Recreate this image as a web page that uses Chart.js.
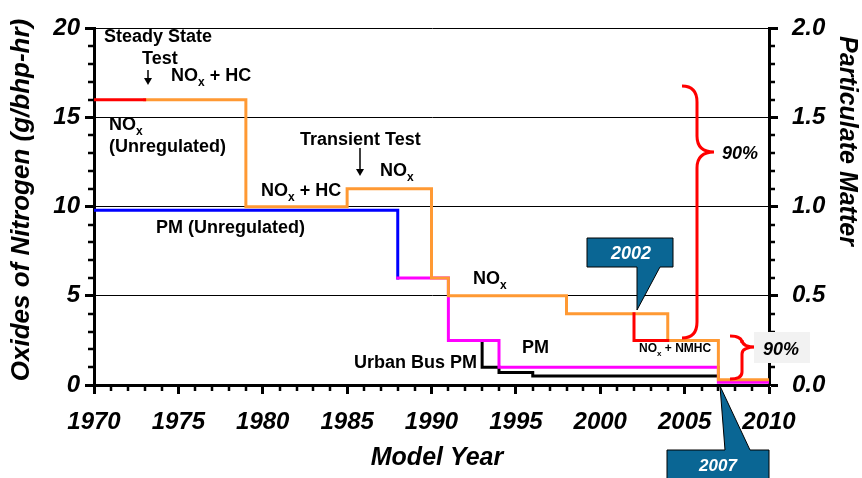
<!DOCTYPE html>
<html>
<head>
<meta charset="utf-8">
<script src="https://cdn.jsdelivr.net/npm/chart.js@4.4.0/dist/chart.umd.min.js"></script>
<style>
  html, body { margin: 0; padding: 0; background: #fff; }
</style>
</head>
<body>
<canvas id="chart" width="862" height="478"></canvas>
<script>
// ─── DATA ────────────────────────────────────────────────────
const xTickYears   = [1970, 1975, 1980, 1985, 1990, 1995, 2000, 2005, 2010];
const noxTicks     = [0, 5, 10, 15, 20];
const pmTicks      = [0, 0.5, 1.0, 1.5, 2.0];

// NOx (g/bhp-hr), left axis
const noxUnregYears = [1970, 1973];
const noxUnregVals  = [16, 16];
const noxStdYears   = [1973, 1979, 1985, 1990, 1991, 1998, 2004, 2007, 2010];
const noxStdVals    = [16, 10, 11, 6, 5, 4, 2.5, 0.3, 0.3];
const noxPullYears  = [2002, 2002, 2004];
const noxPullVals   = [4, 2.5, 2.5];

// PM (g/bhp-hr), right axis
const pmUnregYears  = [1970, 1988, 1988];
const pmUnregVals   = [0.98, 0.98, 0.6];
const pmStdYears    = [1988, 1991, 1994, 2007, 2010];
const pmStdVals     = [0.6, 0.25, 0.1, 0.015, 0.015];
const busPmYears    = [1993, 1993, 1994, 1996, 2007];
const busPmVals     = [0.25, 0.1, 0.07, 0.05, 0.05];

const zip = (xs, ys) => xs.map((x, i) => ({ x, y: ys[i] }));

// ─── HELPERS ─────────────────────────────────────────────────
const FAM = 'Arial, "Liberation Sans", sans-serif';
const F = (size, italic) => `${italic ? 'italic ' : ''}bold ${size}px ${FAM}`;

function nox(ctx, x, y, size, rest) {
    ctx.textAlign = 'left';
    ctx.font = F(size);
    ctx.fillText('NO', x, y);
    let w = ctx.measureText('NO').width;
    const sub = Math.round(size * 0.68);
    ctx.font = F(sub);
    ctx.fillText('x', x + w, y + size * 0.3);
    w += ctx.measureText('x').width;
    if (rest) { ctx.font = F(size); ctx.fillText(rest, x + w, y); }
}

function brace(ctx, x0, x1, xt, yTop, yTip, yBot, r) {
    ctx.beginPath();
    ctx.moveTo(x0, yTop);
    ctx.quadraticCurveTo(x1, yTop, x1, yTop + r);
    ctx.lineTo(x1, yTip - r);
    ctx.quadraticCurveTo(x1, yTip, xt, yTip);
    ctx.quadraticCurveTo(x1, yTip, x1, yTip + r);
    ctx.lineTo(x1, yBot - r);
    ctx.quadraticCurveTo(x1, yBot, x0, yBot);
    ctx.stroke();
}

function arrowDown(ctx, x, y0, y1) {
    ctx.strokeStyle = '#000';
    ctx.lineWidth = 1.5;
    ctx.beginPath(); ctx.moveTo(x, y0); ctx.lineTo(x, y1 - 5); ctx.stroke();
    ctx.fillStyle = '#000';
    ctx.beginPath(); ctx.moveTo(x - 4, y1 - 7); ctx.lineTo(x + 4, y1 - 7); ctx.lineTo(x, y1); ctx.closePath(); ctx.fill();
}

// ─── DECORATIONS PLUGIN ──────────────────────────────────────
const decor = {
    id: 'decor',
    afterDraw(chart) {
        const ctx = chart.ctx;
        const xs = chart.scales.x, ys = chart.scales.y, ys2 = chart.scales.y2;
        const a = chart.chartArea;
        ctx.save();

        // minor ticks
        ctx.strokeStyle = '#000';
        ctx.lineWidth = 2.5;
        ctx.beginPath();
        for (let v = 0; v <= 20; v++) {
            if (v % 5 === 0) continue;
            const y = Math.round(ys.getPixelForValue(v));
            ctx.moveTo(a.left - 6, y); ctx.lineTo(a.left, y);
        }
        for (let k = 0; k <= 20; k++) {
            if (k % 5 === 0) continue;
            const y = Math.round(ys2.getPixelForValue(k / 10));
            ctx.moveTo(a.right, y); ctx.lineTo(a.right + 6, y);
        }
        for (let yr = 1970; yr <= 2010; yr++) {
            if (yr % 5 === 0) continue;
            const x = Math.round(xs.getPixelForValue(yr));
            ctx.moveTo(x, a.bottom); ctx.lineTo(x, a.bottom + 6);
        }
        ctx.stroke();

        // axis titles
        ctx.fillStyle = '#000';
        ctx.textBaseline = 'middle';
        ctx.textAlign = 'center';
        ctx.save();
        ctx.translate(22, 200); ctx.rotate(-Math.PI / 2);
        ctx.font = F(26, true);
        ctx.fillText('Oxides of Nitrogen (g/bhp-hr)', 0, 0);
        ctx.restore();
        ctx.save();
        ctx.translate(847, 141); ctx.rotate(Math.PI / 2);
        ctx.font = F(25, true);
        ctx.fillText('Particulate Matter', 0, 0);
        ctx.restore();
        ctx.textBaseline = 'alphabetic';
        ctx.font = F(25, true);
        ctx.fillText('Model Year', 437, 465);

        // text labels
        ctx.textAlign = 'left';
        ctx.font = F(18);
        ctx.fillText('Steady State', 104, 42);
        ctx.fillText('Test', 142, 64);
        arrowDown(ctx, 148, 70, 85);
        nox(ctx, 171, 81, 18, ' + HC');
        nox(ctx, 109, 130, 18);
        ctx.font = F(18);
        ctx.fillText('(Unregulated)', 109, 152);
        ctx.fillText('Transient Test', 300, 145);
        arrowDown(ctx, 360, 148, 176);
        nox(ctx, 380, 176, 18);
        nox(ctx, 261, 196, 18, ' + HC');
        ctx.font = F(18);
        ctx.fillText('PM (Unregulated)', 156, 233);
        nox(ctx, 473, 284, 18);
        ctx.font = F(18);
        ctx.fillText('PM', 522, 353);
        ctx.textAlign = 'right';
        ctx.fillText('Urban Bus PM', 477, 368);
        nox(ctx, 639, 352, 12, ' + NMHC');

        // braces
        ctx.strokeStyle = '#ff0000';
        ctx.lineWidth = 3;
        brace(ctx, 682, 697, 714, 86, 152, 338, 16);
        brace(ctx, 730, 742, 756, 336, 347, 379, 7);
        ctx.fillStyle = '#000';
        ctx.textAlign = 'left';
        ctx.font = F(18, true);
        ctx.fillText('90%', 722, 159);
        ctx.fillStyle = '#f2f2f2';
        ctx.fillRect(754, 332, 56, 31);
        ctx.fillStyle = '#000';
        ctx.fillText('90%', 763, 355);

        // callouts
        ctx.fillStyle = '#0a6694';
        ctx.strokeStyle = '#000';
        ctx.lineWidth = 1;
        ctx.beginPath();
        ctx.moveTo(587, 238); ctx.lineTo(673, 238); ctx.lineTo(673, 267);
        ctx.lineTo(660, 267); ctx.lineTo(637, 310); ctx.lineTo(637, 267);
        ctx.lineTo(587, 267); ctx.closePath();
        ctx.fill(); ctx.stroke();
        ctx.beginPath();
        ctx.moveTo(667, 480); ctx.lineTo(667, 450); ctx.lineTo(725, 450);
        ctx.lineTo(720, 386); ctx.lineTo(750, 450); ctx.lineTo(769, 450);
        ctx.lineTo(769, 480); ctx.closePath();
        ctx.fill(); ctx.stroke();
        ctx.fillStyle = '#fff';
        ctx.textAlign = 'center';
        ctx.font = F(18, true);
        ctx.fillText('2002', 631, 259);
        ctx.font = F(17, true);
        ctx.fillText('2007', 718, 471);

        ctx.restore();
    }
};

// ─── CHART ───────────────────────────────────────────────────
const lineDs = (data, color, axis) => ({
    data, borderColor: color, borderWidth: 3, pointRadius: 0,
    stepped: 'before', fill: false, yAxisID: axis, borderJoinStyle: 'miter', borderCapStyle: 'square'
});

const tickFont = { family: FAM, size: 24, style: 'italic', weight: 'bold' };

new Chart(document.getElementById('chart'), {
    type: 'line',
    data: {
        datasets: [
            lineDs(zip(noxPullYears, noxPullVals), '#ff0000', 'y'),
            lineDs(zip(noxUnregYears, noxUnregVals), '#ff0000', 'y'),
            lineDs(zip(noxStdYears, noxStdVals), '#ff9933', 'y'),
            lineDs(zip(pmStdYears, pmStdVals), '#ff00ff', 'y2'),
            lineDs(zip(busPmYears, busPmVals), '#000000', 'y2'),
            lineDs(zip(pmUnregYears, pmUnregVals), '#0000ff', 'y2')
        ]
    },
    options: {
        responsive: false,
        animation: false,
        layout: { padding: { top: 20, left: 0, right: 0, bottom: 0 } },
        plugins: { legend: { display: false }, tooltip: { enabled: false } },
        scales: {
            x: {
                type: 'linear', min: 1970, max: 2010,
                afterBuildTicks: s => { s.ticks = xTickYears.map(v => ({ value: v })); },
                afterFit: s => { s.height = 93; },
                ticks: { color: '#000', font: tickFont, padding: 14, maxRotation: 0, callback: v => String(v) },
                grid: { drawOnChartArea: false, drawTicks: true, tickLength: 9, tickWidth: 3, tickColor: '#000' },
                border: { display: true, color: '#000', width: 3 }
            },
            y: {
                position: 'left', min: 0, max: 20,
                afterBuildTicks: s => { s.ticks = noxTicks.map(v => ({ value: v })); },
                afterFit: s => { s.width = 94; },
                ticks: { color: '#000', font: tickFont, padding: 5, callback: v => String(v) },
                grid: { color: '#000', lineWidth: 1, tickLength: 9, tickWidth: 3, tickColor: '#000' },
                border: { display: true, color: '#000', width: 3 }
            },
            y2: {
                position: 'right', min: 0, max: 2,
                afterBuildTicks: s => { s.ticks = pmTicks.map(v => ({ value: v })); },
                afterFit: s => { s.width = 93; },
                ticks: { color: '#000', font: tickFont, padding: 14, callback: v => v.toFixed(1) },
                grid: { drawOnChartArea: false, tickLength: 9, tickWidth: 3, tickColor: '#000' },
                border: { display: true, color: '#000', width: 3 }
            }
        }
    },
    plugins: [decor]
});
</script>
</body>
</html>
